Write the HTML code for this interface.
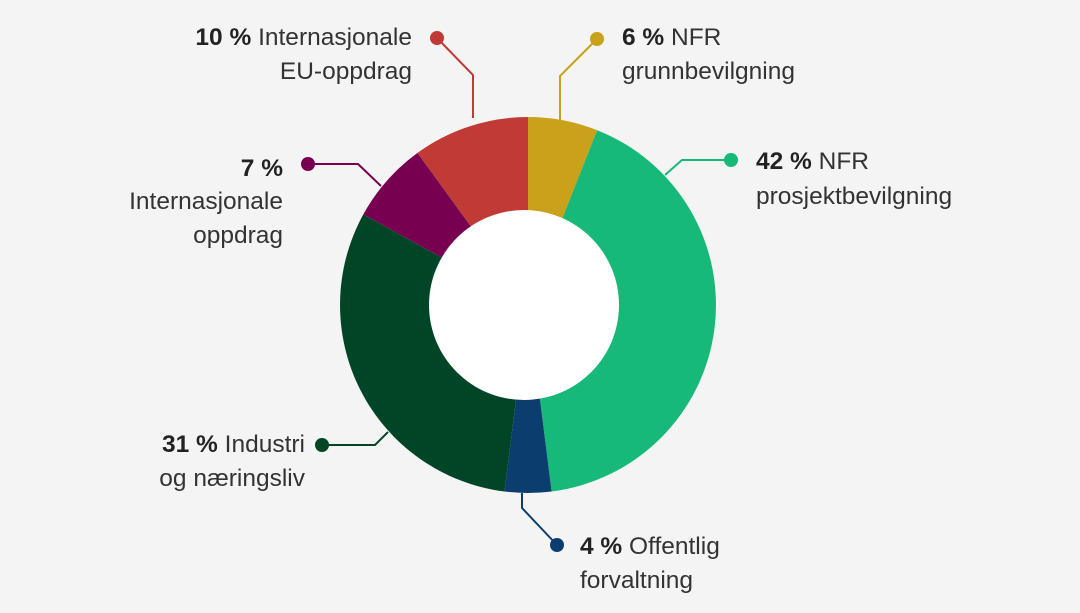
<!DOCTYPE html>
<html><head><meta charset="utf-8"><style>
html,body{margin:0;padding:0;background:#f4f4f4;}
svg{display:block}
text{font-family:"Liberation Sans",sans-serif;font-size:24.5px;fill:#333;}
.b{font-weight:bold;fill:#222}
</style></head><body>
<svg width="1080" height="613" viewBox="0 0 1080 613">
<rect width="1080" height="613" fill="#f4f4f4"/>
<path d="M528,305L528,117A188,188 0 0 1 597.2,130.2Z" fill="#C9A11A"/>
<path d="M528,305L597.2,130.2A188,188 0 0 1 551.6,491.5Z" fill="#17B978"/>
<path d="M528,305L551.6,491.5A188,188 0 0 1 504.4,491.5Z" fill="#0B3D6E"/>
<path d="M528,305L504.4,491.5A188,188 0 0 1 363.3,214.4Z" fill="#014527"/>
<path d="M528,305L363.3,214.4A188,188 0 0 1 417.5,152.9Z" fill="#780050"/>
<path d="M528,305L417.5,152.9A188,188 0 0 1 528,117Z" fill="#C03B36"/>
<circle cx="524" cy="305" r="95" fill="#fff"/>
<g fill="none" stroke-width="2">
<polyline points="437,38 473,75 473,118" stroke="#C03B36"/>
<polyline points="597,39 560,76 560,121" stroke="#C9A11A"/>
<polyline points="731,160 682,160 665,175" stroke="#17B978"/>
<polyline points="308,164 358,164 381,186" stroke="#780050"/>
<polyline points="322,445 375,445 388,432" stroke="#014527"/>
<polyline points="557,545 522,508 522,493" stroke="#0B3D6E"/>
</g>
<circle cx="437" cy="38" r="7" fill="#C03B36"/>
<circle cx="597" cy="39" r="7" fill="#C9A11A"/>
<circle cx="731" cy="160" r="7" fill="#17B978"/>
<circle cx="308" cy="164" r="7" fill="#780050"/>
<circle cx="322" cy="445" r="7" fill="#014527"/>
<circle cx="557" cy="545" r="7" fill="#0B3D6E"/>
<g text-anchor="end">
<text x="412" y="45"><tspan class="b">10 %</tspan> Internasjonale</text>
<text x="412" y="79">EU-oppdrag</text>
<text x="283" y="176" class="b">7 %</text>
<text x="283" y="209">Internasjonale</text>
<text x="283" y="243">oppdrag</text>
<text x="305" y="452"><tspan class="b">31 %</tspan> Industri</text>
<text x="305" y="486">og næringsliv</text>
</g>
<text x="622" y="45"><tspan class="b">6 %</tspan> NFR</text>
<text x="622" y="79">grunnbevilgning</text>
<text x="756" y="169"><tspan class="b">42 %</tspan> NFR</text>
<text x="756" y="204">prosjektbevilgning</text>
<text x="580" y="554"><tspan class="b">4 %</tspan> Offentlig</text>
<text x="580" y="588">forvaltning</text>
</svg>
</body></html>
